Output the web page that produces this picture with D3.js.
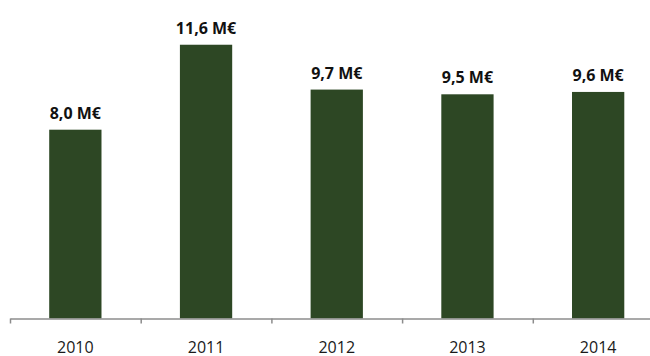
<!DOCTYPE html>
<html>
<head>
<meta charset="utf-8">
<script src="https://cdn.jsdelivr.net/npm/d3@7/dist/d3.min.js"></script>
<style>
  html, body { margin: 0; padding: 0; background: #fff; }
  svg { display: block; }
</style>
</head>
<body>
<svg id="chart" width="650" height="356"></svg>
<script>
// Annual amounts in millions of euros
const years = ["2010", "2011", "2012", "2013", "2014"];
const amounts = [8.0, 11.6, 9.7, 9.5, 9.6];
const valueLabels = ["8,0 M€", "11,6 M€", "9,7 M€", "9,5 M€", "9,6 M€"];

const width = 650, height = 356;
const left = 10, step = 130.7;
const baseY = 318.5;

const svg = d3.select("#chart");

const x = d3.scaleBand()
  .domain(years)
  .range([left, left + step * years.length])
  .paddingInner(0.6)
  .paddingOuter(0.3);

const y = d3.scaleLinear()
  .domain([0, 13.5])
  .range([baseY, baseY - 13.5 * 23.6]);

// Bars
svg.append("g")
  .selectAll("rect")
  .data(years)
  .join("rect")
  .attr("x", d => x(d))
  .attr("width", x.bandwidth())
  .attr("y", (d, i) => y(amounts[i]))
  .attr("height", (d, i) => y(0) - y(amounts[i]))
  .attr("fill", "#2d4724");

// Value labels above the bars
svg.append("g")
  .selectAll("text")
  .data(years)
  .join("text")
  .attr("x", d => x(d) + x.bandwidth() / 2)
  .attr("y", (d, i) => y(amounts[i]) - 11)
  .attr("text-anchor", "middle")
  .attr("font-family", "'Open Sans', sans-serif")
  .attr("font-weight", "bold")
  .attr("font-size", 16)
  .attr("fill", "#111")
  .text((d, i) => valueLabels[i]);

// Category axis: ticks sit on the band boundaries
const boundary = d3.scaleLinear()
  .domain([0, years.length])
  .range([left, left + step * years.length]);

const axisG = svg.append("g")
  .attr("transform", `translate(0,${baseY})`)
  .call(d3.axisBottom(boundary)
    .tickValues(d3.range(years.length + 1))
    .tickSize(5)
    .tickSizeOuter(0)
    .tickFormat(""));
axisG.select(".domain").attr("stroke", "#8c8c8c").attr("stroke-width", 1.5);
axisG.selectAll(".tick line").attr("stroke", "#8c8c8c").attr("stroke-width", 1.5);

// Year labels under the axis
const labelG = svg.append("g")
  .attr("transform", `translate(0,${baseY})`)
  .call(d3.axisBottom(x).tickSize(0).tickPadding(0));
labelG.select(".domain").remove();
labelG.selectAll(".tick text")
  .attr("dy", 0)
  .attr("y", 34)
  .attr("font-family", "'Open Sans', sans-serif")
  .attr("font-size", 16)
  .attr("fill", "#1a1a1a");
</script>
</body>
</html>
